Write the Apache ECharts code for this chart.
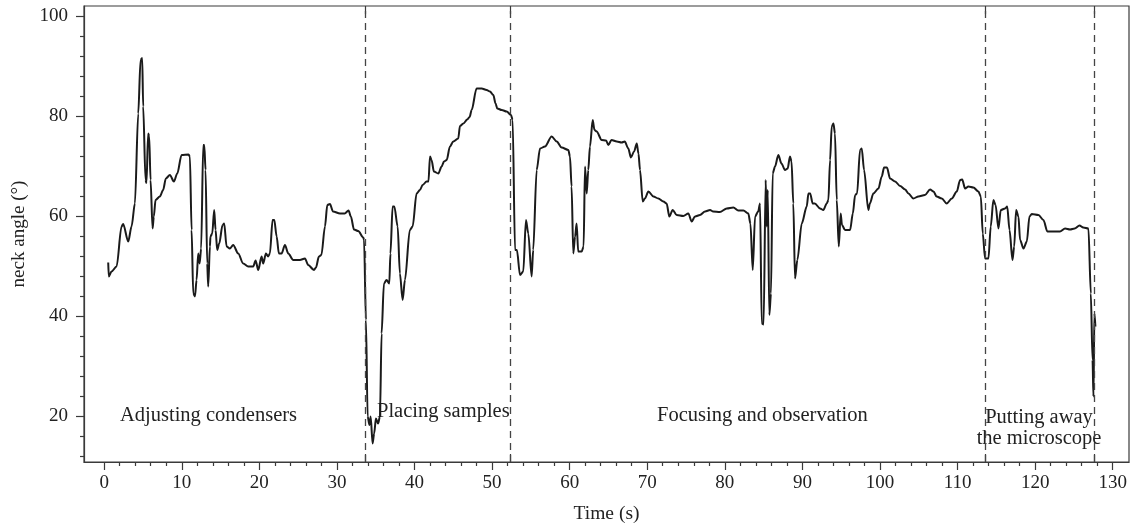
<!DOCTYPE html>
<html>
<head>
<meta charset="utf-8">
<script src="https://cdn.jsdelivr.net/npm/echarts@6.0.0/dist/echarts.min.js"></script>
<style>html,body{margin:0;padding:0;background:#fff}#c{width:1135px;height:529px}</style>
</head>
<body>
<div id="c"></div>
<script>
const timeS = [0.52,0.6,0.95,1.6,2.24,2.45,3.1,3.53,3.96,4.39,4.69,4.9,5.03,5.33,5.45,5.67,5.8,5.98,6.24,6.4,6.62,7.18,7.6,7.95,8.47,8.99,9.42,9.98,10.88,11.05,11.27,11.48,11.7,11.91,12.12,12.3,12.5,12.77,12.9,13.07,13.28,13.41,13.63,13.7,13.93,14.18,14.36,14.57,14.83,15.26,15.47,15.78,16.2,16.63,17.28,17.92,18.57,19.21,19.52,19.86,20.29,20.5,20.85,21.14,21.36,21.71,21.93,22.23,22.52,22.87,23.3,23.73,24.37,25.23,25.88,26.3,27.04,27.3,27.68,28.0,28.46,28.76,29.1,29.5,30.4,31.0,31.5,31.8,32.2,32.75,33.4,33.5,33.74,33.96,34.2,34.35,34.6,34.8,35.03,35.3,35.55,35.76,36.06,36.4,36.75,36.9,37.18,37.4,37.83,38.12,38.47,38.77,39.4,39.76,40.27,40.7,41.05,41.56,41.8,42.0,42.2,42.5,43.07,43.5,43.8,44.15,44.57,45.0,45.64,45.86,46.3,46.8,47.1,47.37,48.0,48.66,49.3,49.73,50.16,50.45,50.67,51.25,51.88,52.44,52.65,52.96,53.2,53.6,54.02,54.37,54.67,55.1,55.3,55.75,56.18,56.82,57.68,58.33,58.97,59.83,60.04,60.25,60.47,60.7,60.9,61.1,61.55,61.8,61.98,62.2,62.4,62.62,62.97,63.2,63.48,64.13,64.7,64.98,65.4,66.07,66.7,67.1,67.56,67.9,68.3,68.65,68.87,69.07,69.42,69.7,70.15,70.8,71.43,72.08,72.5,72.85,73.28,73.8,74.65,75.3,75.73,76.16,76.8,77.45,78.1,78.5,79.36,80.25,81.1,81.74,82.4,83.03,83.3,83.6,83.9,84.3,84.54,84.76,85.0,85.27,85.4,85.53,85.74,85.95,86.17,86.47,86.9,87.3,87.76,88.1,88.4,88.6,88.83,89.05,89.35,89.92,90.56,90.78,91.0,91.33,91.6,92.28,92.7,93.14,93.35,93.57,93.78,94.0,94.2,94.43,94.69,94.94,95.1,95.5,96.15,96.5,96.8,97.05,97.43,97.65,97.95,98.5,98.7,99.15,99.8,100.23,100.53,100.9,101.3,101.95,102.6,103.24,103.67,104.3,104.95,105.8,106.46,106.9,107.3,107.97,108.6,109.26,109.9,110.33,110.6,110.97,111.4,112.04,112.69,113.0,113.25,113.55,113.98,114.28,114.62,114.9,115.27,115.57,116.13,116.4,116.7,117.08,117.3,117.55,117.85,118.06,118.5,118.93,119.27,119.57,120.43,121.07,121.58,122.36,123.2,123.86,124.5,125.1,125.72,126.2,126.87,127.18,127.4,127.52,127.64,127.77];
const neckAngle = [50.7,47.9,48.9,49.9,57.9,58.4,54.9,57.9,62.5,80.5,91.2,91.6,81.9,67.2,66.6,76.5,76,67.2,57.5,59.9,63.2,63.9,65.2,67.5,68.2,66.9,68.5,72.2,72.3,71.9,57.2,44.5,43.9,47.2,52.5,50.5,53.5,74.2,74.2,69.2,50.5,45.9,53.9,55.9,56.5,61.2,57.2,53.2,54.5,58.2,58.5,53.9,53.5,54.2,52.5,50.5,49.9,49.9,51.1,49.2,51.9,50.5,52.5,51.9,52.5,59.2,59.2,55.9,52.5,52.5,54.2,52.5,51.2,51.2,51.5,50.2,49.2,49.7,51.9,52.2,57.9,62.2,62.4,60.9,60.5,60.5,61.1,59.9,57.3,57.0,55.7,55.2,39.2,19.9,18.2,19.9,14.5,16.5,19.5,18.5,19.9,36.5,46.5,47.2,46.5,52.5,61.9,61.9,57.9,48.5,43.2,47.2,57.2,57.9,64.5,65.2,66.2,66.9,66.9,71.9,71.2,68.9,68.5,69.9,70.9,71.2,73.9,74.9,75.5,78.0,78.5,79.3,79.8,81.2,85.5,85.5,85.2,84.9,84.2,82.5,81.5,81.2,80.9,80.2,79.2,53.2,53.2,48.2,48.9,59.2,56.5,47.9,53.2,69.2,73.5,73.9,75.9,74.9,73.7,73.2,71.9,65.9,52.5,55.9,58.5,52.9,52.9,53.9,69.9,64.5,69.2,73.9,79.2,77.2,76.9,75.2,75.1,74.2,75.2,74.9,74.7,74.9,73.5,71.7,72.9,74.5,72.5,69.2,62.9,63.5,64.9,63.9,63.5,62.9,62.5,59.9,61.2,60.2,60.0,60.5,58.9,59.9,60.2,60.9,61.2,60.9,60.8,61.5,61.7,61.1,61.1,60.5,58.5,49.2,59.9,60.9,62.5,38.5,38.3,67.2,57.9,65.2,40.2,44.5,68.5,69.9,72.2,70.5,69.2,69.5,71.9,70.9,62.5,47.5,51.2,58.5,61.9,64.5,64.5,62.5,62.5,61.5,61.2,62.5,63.2,71.2,77.9,78.5,76.5,63.2,53.9,60.5,58.2,57.2,57.2,60.5,64.2,64.5,73.2,73.5,69.2,61.2,62.5,64.5,65.5,67.9,69.7,69.7,67.5,66.9,66.0,65.3,64.5,63.5,63.9,64.2,65.3,64.9,63.9,63.5,62.5,63.5,64.9,67.2,67.3,65.5,65.9,65.7,64.9,63.9,56.5,51.5,51.5,57.9,63.2,62.2,57.5,61.2,61.5,61.9,57.2,51.2,53.9,61.2,59.9,55.2,53.5,54.9,59.9,60.4,60.2,59.2,56.9,56.9,56.9,57.5,57.3,57.5,58.1,57.7,57.5,44.5,31.2,23.9,40.5,37.9];
const phaseBounds = [33.7, 52.3, 113.6, 127.6];
const xMajor = [0,10,20,30,40,50,60,70,80,90,100,110,120,130];
const yMajor = [20,40,60,80,100];
const phaseLabels = ['Adjusting condensers','Placing samples','Focusing and observation','Putting away\nthe microscope'];

const FONT = 'Liberation Serif';
const xMinor = [];
for (let v = 2; v <= 128; v += 2) if (v % 10 !== 0) xMinor.push(v);
const yMinor = [];
for (let v = 12; v <= 100; v += 4) if (v % 20 !== 0) yMinor.push(v);

const XMIN = -2.6, XMAX = 132.1, YMIN = 10.8, YMAX = 102;
const axisCol = '#3a3a3a';

const chart = echarts.init(document.getElementById('c'), null, {renderer: 'canvas'});
const data = timeS.map((t, i) => [t, neckAngle[i]]);

function baseX(extra) {
  return Object.assign({type: 'value', min: XMIN, max: XMAX, splitLine: {show: false}}, extra);
}
function baseY(extra) {
  return Object.assign({type: 'value', min: YMIN, max: YMAX, splitLine: {show: false}}, extra);
}
const annFont = '20.5px "Liberation Serif"';

chart.setOption({
  animation: false,
  grid: {left: 84, right: 6, top: 6, bottom: 67, outerBoundsMode: 'none', containLabel: false,
         show: true, borderColor: axisCol, borderWidth: 1.2, backgroundColor: 'transparent'},
  xAxis: [
    baseX({
      position: 'bottom',
      name: 'Time (s)', nameLocation: 'middle', nameGap: 42,
      nameTextStyle: {fontFamily: FONT, fontSize: 19.5, color: '#222'},
      axisLine: {show: true, onZero: false, lineStyle: {color: axisCol, width: 1.2}},
      axisTick: {show: true, length: 8, customValues: xMajor, lineStyle: {color: axisCol, width: 1.2}},
      axisLabel: {customValues: xMajor, fontFamily: FONT, fontSize: 19, color: '#222', margin: 12}
    }),
    baseX({
      position: 'bottom',
      axisLine: {show: false, onZero: false},
      axisTick: {show: true, length: 4, customValues: xMinor, lineStyle: {color: axisCol, width: 1.2}},
      axisLabel: {show: false}
    }),
    baseX({
      position: 'bottom',
      axisLine: {show: false, onZero: false},
      axisTick: {show: true, inside: true, length: 8, customValues: phaseBounds, lineStyle: {color: axisCol, width: 1.2}},
      axisLabel: {show: false}
    }),
    baseX({
      position: 'top',
      axisLine: {show: false, onZero: false},
      axisTick: {show: true, inside: true, length: 8, customValues: phaseBounds, lineStyle: {color: axisCol, width: 1.2}},
      axisLabel: {show: false}
    })
  ],
  yAxis: [
    baseY({
      position: 'left',
      name: 'neck angle (°)', nameLocation: 'middle', nameGap: 51, nameRotate: 90,
      nameTextStyle: {fontFamily: FONT, fontSize: 19, color: '#222'},
      axisLine: {show: true, onZero: false, lineStyle: {color: axisCol, width: 1.2}},
      axisTick: {show: true, length: 8, customValues: yMajor, lineStyle: {color: axisCol, width: 1.2}},
      axisLabel: {customValues: yMajor, fontFamily: FONT, fontSize: 19, color: '#222', margin: 16}
    }),
    baseY({
      position: 'left',
      axisLine: {show: false, onZero: false},
      axisTick: {show: true, length: 4, customValues: yMinor, lineStyle: {color: axisCol, width: 1.2}},
      axisLabel: {show: false}
    })
  ],
  series: [{
    type: 'line',
    data: data,
    xAxisIndex: 0, yAxisIndex: 0,
    showSymbol: false,
    smooth: 0.3,
    smoothMonotone: 'x',
    lineStyle: {color: '#1a1a1a', width: 2},
    markLine: {
      silent: true,
      symbol: 'none',
      label: {show: false},
      lineStyle: {color: '#444', width: 1.3, type: [7, 5]},
      data: phaseBounds.map(v => ({xAxis: v}))
    }
  }],
  graphic: [
    {type: 'text', left: 120, top: 405, style: {text: phaseLabels[0], font: annFont, fill: '#222'}},
    {type: 'text', left: 377, top: 401, style: {text: phaseLabels[1], font: annFont, fill: '#222'}},
    {type: 'text', left: 657, top: 405, style: {text: phaseLabels[2], font: annFont, fill: '#222'}},
    {type: 'text', x: 1039, y: 407, style: {text: phaseLabels[3], font: annFont, fill: '#222', align: 'center', verticalAlign: 'top', lineHeight: 21}}
  ]
});
</script>
</body>
</html>
